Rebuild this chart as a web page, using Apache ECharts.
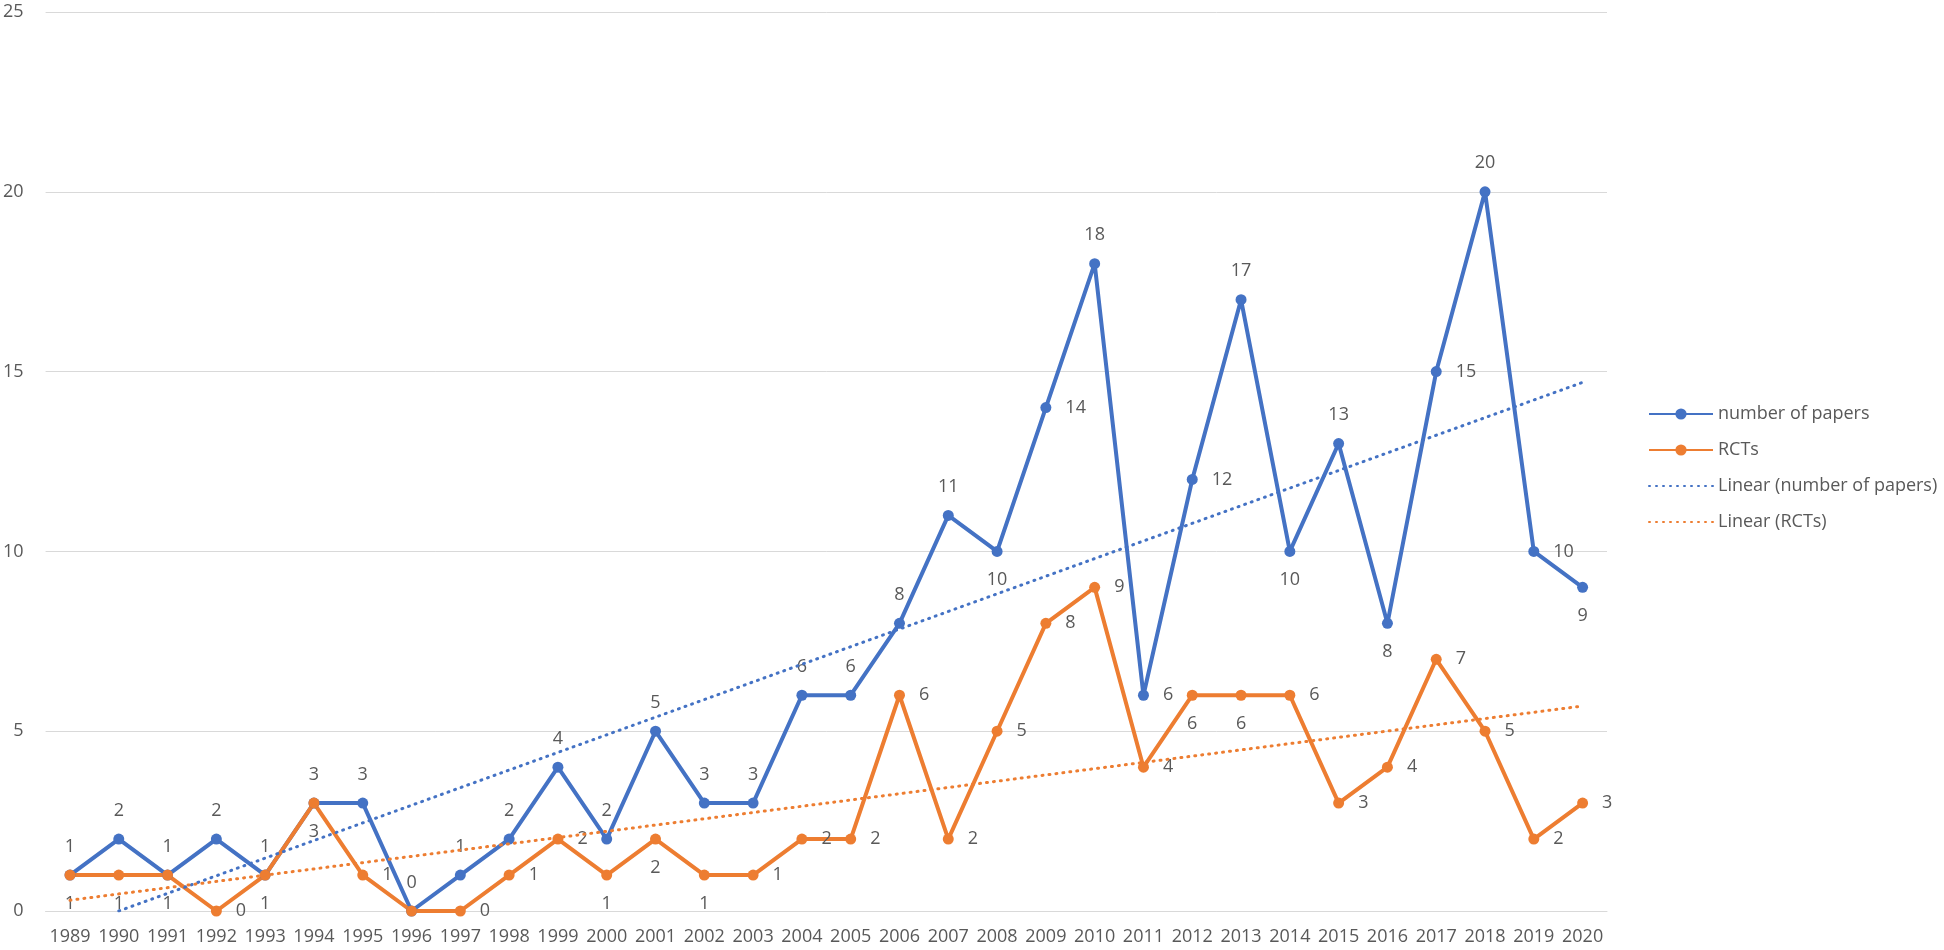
<!DOCTYPE html>
<html>
<head>
<meta charset="utf-8">
<script src="https://cdn.jsdelivr.net/npm/echarts@6/dist/echarts.min.js"></script>
<style>
html,body{margin:0;padding:0;background:#fff;}
#chart{width:1944px;height:950px;}
</style>
</head>
<body>
<div id="chart"></div>
<script>
const years = ['1989','1990','1991','1992','1993','1994','1995','1996','1997','1998','1999','2000','2001','2002','2003','2004','2005','2006','2007','2008','2009','2010','2011','2012','2013','2014','2015','2016','2017','2018','2019','2020'];
const papers = [1,2,1,2,1,3,3,0,1,2,4,2,5,3,3,6,6,8,11,10,14,18,6,12,17,10,13,8,15,20,10,9];
const rcts   = [1,1,1,0,1,3,1,0,0,1,2,1,2,1,1,2,2,6,2,5,8,9,4,6,6,6,3,4,7,5,2,3];
// trendline end points
const trendPapers = [['1990', 0], ['2020', 14.7]];
const trendRCTs   = [['1989', 0.3], ['2020', 5.7]];
const yTicks = [0,5,10,15,20,25];

// label placements (style only)
const papersLabelPos = ['top','top','top','top','top','top','top','top','top','top','top','top','top','top','top','top','top','top','top','bottom','right','top','right','right','top','bottom','top','bottom','right','top','right','bottom'];
const rctsLabelPos   = ['bottom','bottom','bottom','right','bottom','bottom','right','none','right','right','right','bottom','bottom','bottom','right','right','right','right','right','right','right','right','right','bottom','bottom','right','right','right','right','right','right','right'];

const BLUE = '#4472C4', ORANGE = '#ED7D31', TXT = '#595959';
const FONT = 'Open Sans';

function withLabels(values, pos) {
  return values.map((v, i) => {
    if (pos[i] === 'none') return { value: v, label: { show: false } };
    return { value: v, label: { position: pos[i] } };
  });
}

const chart = echarts.init(document.getElementById('chart'), null, { renderer: 'canvas' });
chart.setOption({
  animation: false,
  textStyle: { fontFamily: FONT },
  grid: { left: 43, right: 337, top: 12, bottom: 39, containLabel: false },
  legend: {
    orient: 'vertical',
    left: 1643,
    top: 400,
    itemWidth: 64,
    itemHeight: 14,
    itemGap: 18,
    textStyle: { color: TXT, fontSize: 18, fontFamily: FONT },
    data: [
      'number of papers',
      'RCTs',
      { name: 'Linear (number of papers)', itemStyle: { opacity: 0, borderWidth: 0 } },
      { name: 'Linear (RCTs)', itemStyle: { opacity: 0, borderWidth: 0 } }
    ]
  },
  xAxis: {
    type: 'category',
    data: years,
    boundaryGap: true,
    axisLine: { show: true, lineStyle: { color: '#d9d9d9', width: 1 } },
    axisTick: { show: false },
    axisLabel: { interval: 0, color: TXT, fontSize: 18, fontFamily: FONT, margin: 17 }
  },
  yAxis: {
    type: 'value',
    min: yTicks[0],
    max: yTicks[yTicks.length - 1],
    interval: 5,
    axisLine: { show: false },
    axisTick: { show: false },
    splitLine: { lineStyle: { color: '#d9d9d9', width: 1 } },
    axisLabel: { color: TXT, fontSize: 18, fontFamily: FONT, margin: 22 }
  },
  series: [
    {
      name: 'number of papers',
      type: 'line',
      data: withLabels(papers, papersLabelPos),
      symbol: 'circle',
      symbolSize: 11,
      lineStyle: { color: BLUE, width: 4 },
      itemStyle: { color: BLUE },
      label: { show: true, color: TXT, fontSize: 18, fontFamily: FONT, distance: 14 },
      z: 3
    },
    {
      name: 'RCTs',
      type: 'line',
      data: withLabels(rcts, rctsLabelPos),
      symbol: 'circle',
      symbolSize: 11,
      lineStyle: { color: ORANGE, width: 4 },
      itemStyle: { color: ORANGE },
      label: { show: true, color: TXT, fontSize: 18, fontFamily: FONT, distance: 14 },
      z: 3
    },
    {
      name: 'Linear (number of papers)',
      type: 'line',
      data: trendPapers,
      symbol: 'none',
      lineStyle: { color: BLUE, width: 3, type: [1, 6], cap: 'round' },
      itemStyle: { color: BLUE },
      silent: true,
      z: 4
    },
    {
      name: 'Linear (RCTs)',
      type: 'line',
      data: trendRCTs,
      symbol: 'none',
      lineStyle: { color: ORANGE, width: 3, type: [1, 6], cap: 'round' },
      itemStyle: { color: ORANGE },
      silent: true,
      z: 4
    }
  ]
});
</script>
</body>
</html>
